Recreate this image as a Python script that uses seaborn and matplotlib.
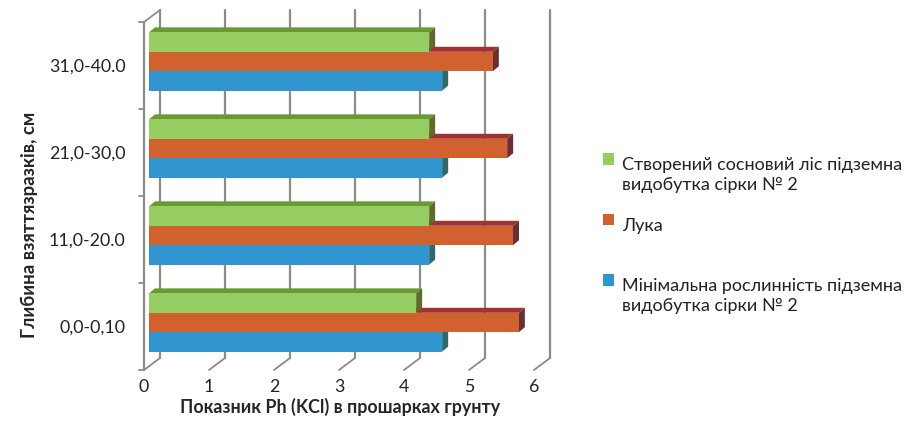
import matplotlib.pyplot as plt
import pandas as pd
import seaborn as sns
from matplotlib.patches import Polygon, Rectangle, Patch
from matplotlib.legend_handler import HandlerPatch
from matplotlib.transforms import ScaledTranslation

# data
depths = ['31,0-40.0', '21,0-30,0', '11,0-20.0', '0,0-0,10']
series = ['Створений сосновий ліс підземна\nвидобутка сірки № 2',
          'Лука',
          'Мінімальна рослинність підземна\nвидобутка сірки № 2']
pine = [4.31, 4.31, 4.31, 4.11]
meadow = [5.29, 5.51, 5.60, 5.69]
minimal = [4.51, 4.51, 4.31, 4.51]
xticks = [0, 1, 2, 3, 4, 5, 6]

front = ['#95CD63', '#D1622F', '#3195D0']
tops = ['#6A9934', '#A0322F', '#2C6E8E']
sides = ['#5F6A2D', '#6A2F33', '#2B6A6F']

df = pd.DataFrame({
    'depth': depths * 3,
    'ph': pine + meadow + minimal,
    'series': [s for s in series for _ in depths],
})

sns.set_style('white')
plt.rcParams['font.family'] = ['Lato', 'DejaVu Sans']

W, H = 914, 421
fig = plt.figure(figsize=(W / 100, H / 100), dpi=100)
# axes = plane of the bars; front / back planes are offset in pixels
ax = fig.add_axes([149 / W, (H - 366) / H, 390 / W, 348 / H])

sns.barplot(data=df, y='depth', x='ph', hue='series', hue_order=series,
            order=depths, palette=front, orient='h', width=0.67,
            saturation=1, legend=False, linewidth=0, ax=ax)
ax.set_xlim(0, 6)
ax.set_ylim(3.5, -0.5)

sx = 6 / 390   # data units per pixel
sy = 4 / 348   # (y axis inverted: positive = down)
grid_c = '#8C8C84'

# back wall grid and floor diagonals
for k in xticks:
    ax.plot([k + 11 * sx] * 2, [-0.5 - 8 * sy, 3.5 - 8 * sy], color=grid_c,
            lw=1.6, zorder=0, clip_on=False)
    ax.plot([k - 5 * sx, k + 11 * sx], [3.5 + 4 * sy, 3.5 - 8 * sy],
            color=grid_c, lw=1.3, zorder=0, clip_on=False)
# left wall
ax.plot([-5 * sx, -5 * sx], [-0.5 + 4 * sy, 3.5 + 4 * sy], color=grid_c,
        lw=1.6, zorder=6, clip_on=False)
ax.plot([-5 * sx, 11 * sx], [-0.5 + 4 * sy, -0.5 - 8 * sy], color=grid_c,
        lw=1.3, zorder=0, clip_on=False)
for i in range(len(depths) + 1):
    y = i - 0.5 + 4 * sy
    ax.plot([-10 * sx, -5 * sx], [y, y], color=grid_c, lw=1.3, clip_on=False)

# 3D faces of the bars
dx, dy = 6 * sx, -5 * sy
for i, cont in enumerate(ax.containers):
    z = 5 - i
    for bar in cont:
        bar.set_zorder(z)
        x0, y0 = bar.get_x(), bar.get_y()
        x1, y1 = x0 + bar.get_width(), y0 + bar.get_height()
        top = Polygon([(x0, y0), (x1, y0), (x1 + dx, y0 + dy), (x0 + dx, y0 + dy)],
                      closed=True, fc=tops[i], ec='none', zorder=z - 0.1,
                      clip_on=False)
        side = Polygon([(x1, y0), (x1, y1), (x1 + dx, y1 + dy), (x1 + dx, y0 + dy)],
                       closed=True, fc=sides[i], ec='none', zorder=z - 0.1,
                       clip_on=False)
        ax.add_patch(top)
        ax.add_patch(side)

for s in ax.spines.values():
    s.set_visible(False)
ax.set_xticks(xticks)
ax.tick_params(length=0, labelsize=12.8, colors='#222222')
ax.tick_params(axis='x', pad=9)
ax.tick_params(axis='y', pad=17)
for lab in ax.get_xticklabels():
    lab.set_transform(lab.get_transform() + ScaledTranslation(-5 / 100, 0, fig.dpi_scale_trans))
for lab in ax.get_yticklabels():
    lab.set_transform(lab.get_transform() + ScaledTranslation(0, -4 / 100, fig.dpi_scale_trans))

ax.set_xlabel('Показник Ph (KCl) в прошарках грунту', fontsize=12.9,
              fontweight='bold')
ax.set_ylabel('Глибина взяттязразків, см', fontsize=13.4, fontweight='bold')
ax.yaxis.set_label_coords(-111 / 390, 0.405)
ax.xaxis.set_label_coords(0.49, -0.093)


class FirstLine(HandlerPatch):
    def __init__(self, shift):
        super().__init__()
        self.shift = shift

    def create_artists(self, legend, orig_handle, xdescent, ydescent,
                       width, height, fontsize, trans):
        r = Rectangle((-xdescent, -ydescent + self.shift), width, height,
                      fc=orig_handle.get_facecolor(), ec='none', transform=trans)
        return [r]


handles = [Patch(fc=c) for c in front]
labels = [series[0], 'Лука\n', series[2]]
leg = fig.legend(handles, labels, loc='upper left',
                 bbox_to_anchor=(587 / W, 1 - 141 / H), frameon=False,
                 fontsize=13, handlelength=0.6, handleheight=0.6,
                 handletextpad=0.45, labelspacing=1.4,
                 handler_map={h: FirstLine(11.5) for h in handles})
for t in leg.get_texts():
    t.set_color('#222222')
    t.set_linespacing(1.25)

fig.savefig('out.png', dpi=100)
